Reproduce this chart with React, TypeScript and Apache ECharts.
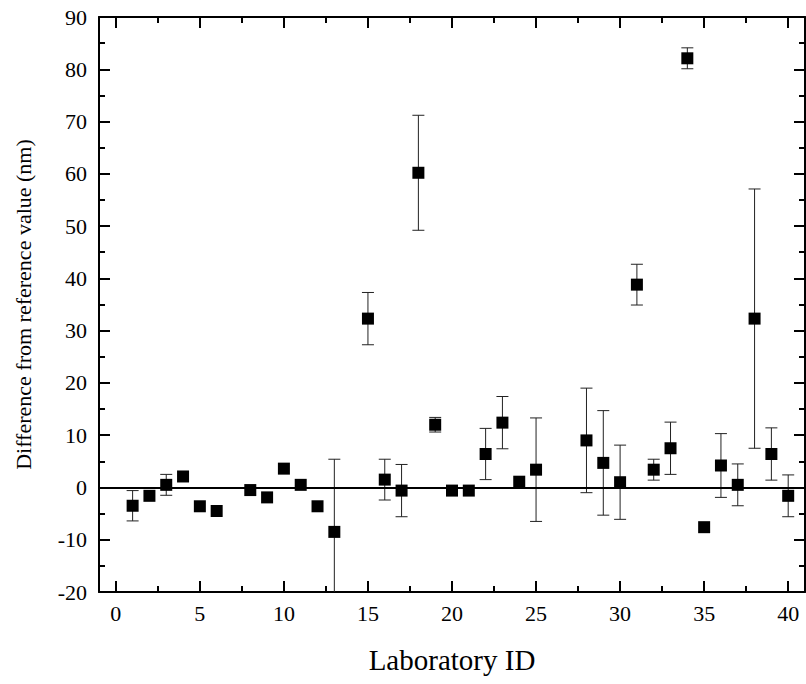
import React, { useEffect, useRef } from "react";
import * as echarts from "echarts";

const labIds = [1, 2, 3, 4, 5, 6, 8, 9, 10, 11, 12, 13, 15, 16, 17, 18, 19, 20, 21, 22, 23, 24, 25, 28, 29, 30, 31, 32, 33, 34, 35, 36, 37, 38, 39, 40];
const differences = [-3.5, -1.6, 0.5, 2.1, -3.6, -4.5, -0.5, -1.9, 3.6, 0.5, -3.6, -8.5, 32.3, 1.5, -0.6, 60.2, 12.0, -0.6, -0.6, 6.4, 12.4, 1.1, 3.4, 9.0, 4.7, 1.0, 38.8, 3.4, 7.5, 82.1, -7.6, 4.2, 0.5, 32.3, 6.4, -1.6];
const uncertainties = [2.9, 0, 2.0, 0, 0, 0, 0, 0, 0, 0, 0, 13.9, 5.0, 3.9, 5.0, 11.0, 1.4, 0, 0, 4.9, 5.0, 0, 9.9, 10.0, 10.0, 7.1, 3.9, 2.0, 5.0, 2.0, 0, 6.1, 4.0, 24.8, 5.0, 4.0];

const xMajorTicks = [0, 5, 10, 15, 20, 25, 30, 35, 40];
const xMinorTicks = [2.5, 7.5, 12.5, 17.5, 22.5, 27.5, 32.5, 37.5];

const FONT = "'Liberation Serif', 'Times New Roman', serif";

export default function App() {
  const ref = useRef<HTMLDivElement>(null);
  useEffect(() => {
    document.body.style.margin = "0";
    const chart = echarts.init(ref.current!, null, { renderer: "svg" });
    const points = labIds.map((id, i) => [id, differences[i]]);
    const errData = labIds.map((id, i) => [id, differences[i] - uncertainties[i], differences[i] + uncertainties[i]]);
    const axisLineStyle = { color: "#000", width: 2 };
    const xMin = -1, xMax = 41;
    const mkX = (pos: string, ticks: number[], len: number, withLabel: boolean, withLine: boolean, extra: any = {}) => ({
      type: "value",
      position: pos,
      min: xMin,
      max: xMax,
      axisLine: { show: withLine, onZero: false, lineStyle: axisLineStyle },
      axisTick: { show: true, inside: true, length: len, customValues: ticks, lineStyle: { color: "#000", width: 2 } },
      axisLabel: withLabel
        ? { show: true, customValues: ticks, fontFamily: FONT, fontSize: 22, color: "#000", margin: 10 }
        : { show: false },
      splitLine: { show: false },
      ...extra,
    });
    const mkY = (pos: string, withLabel: boolean, extra: any = {}) => ({
      type: "value",
      position: pos,
      min: -20,
      max: 90,
      interval: 10,
      axisLine: { show: true, onZero: false, lineStyle: axisLineStyle },
      axisTick: { show: true, inside: true, length: 11, lineStyle: { color: "#000", width: 2 } },
      minorTick: { show: true, splitNumber: 2, length: 6, lineStyle: { color: "#000", width: 2 } },
      axisLabel: withLabel
        ? { show: true, fontFamily: FONT, fontSize: 22, color: "#000", margin: 12 }
        : { show: false },
      splitLine: { show: false },
      minorSplitLine: { show: false },
      ...extra,
    });
    chart.setOption({
      animation: false,
      backgroundColor: "#fff",
      textStyle: { fontFamily: FONT, color: "#000" },
      grid: { left: 99, right: 1, top: 17, bottom: 92, containLabel: false },
      xAxis: [
        mkX("bottom", xMajorTicks, 11, true, true, {
          name: "Laboratory ID",
          nameLocation: "middle",
          nameGap: 53,
          nameTextStyle: { fontFamily: FONT, fontSize: 29, color: "#000" },
        }),
        mkX("bottom", xMinorTicks, 6, false, false),
        mkX("top", xMajorTicks, 11, false, true),
        mkX("top", xMinorTicks, 6, false, false),
      ],
      yAxis: [
        mkY("left", true, {
          name: "Difference from reference value (nm)",
          nameLocation: "middle",
          nameGap: 65,
          nameTextStyle: { fontFamily: FONT, fontSize: 22, color: "#000" },
        }),
        mkY("right", false),
      ],
      series: [
        {
          type: "custom",
          xAxisIndex: 0,
          yAxisIndex: 0,
          clip: true,
          data: errData,
          renderItem: (params: any, api: any) => {
            const x = api.value(0);
            const lo = api.value(1);
            const hi = api.value(2);
            if (hi - lo <= 0) return { type: "group", children: [] };
            const pLo = api.coord([x, lo]);
            const pHi = api.coord([x, hi]);
            const w = 6;
            const style = { stroke: "#222", lineWidth: 1 };
            return {
              type: "group",
              children: [
                { type: "line", shape: { x1: pLo[0], y1: pLo[1], x2: pHi[0], y2: pHi[1] }, style },
                { type: "line", shape: { x1: pHi[0] - w, y1: pHi[1], x2: pHi[0] + w, y2: pHi[1] }, style },
                { type: "line", shape: { x1: pLo[0] - w, y1: pLo[1], x2: pLo[0] + w, y2: pLo[1] }, style },
              ],
            };
          },
          z: 2,
        },
        {
          type: "scatter",
          xAxisIndex: 0,
          yAxisIndex: 0,
          symbol: "rect",
          symbolSize: 12,
          itemStyle: { color: "#000", opacity: 1 },
          data: points,
          z: 3,
          markLine: {
            silent: true,
            symbol: ["none", "none"],
            label: { show: false },
            lineStyle: { color: "#000", width: 2, type: "solid" },
            data: [{ yAxis: 0 }],
          },
        },
      ],
    });
    return () => chart.dispose();
  }, []);
  return <div ref={ref} style={{ position: "absolute", left: 0, top: 0, width: 806, height: 684 }} />;
}
